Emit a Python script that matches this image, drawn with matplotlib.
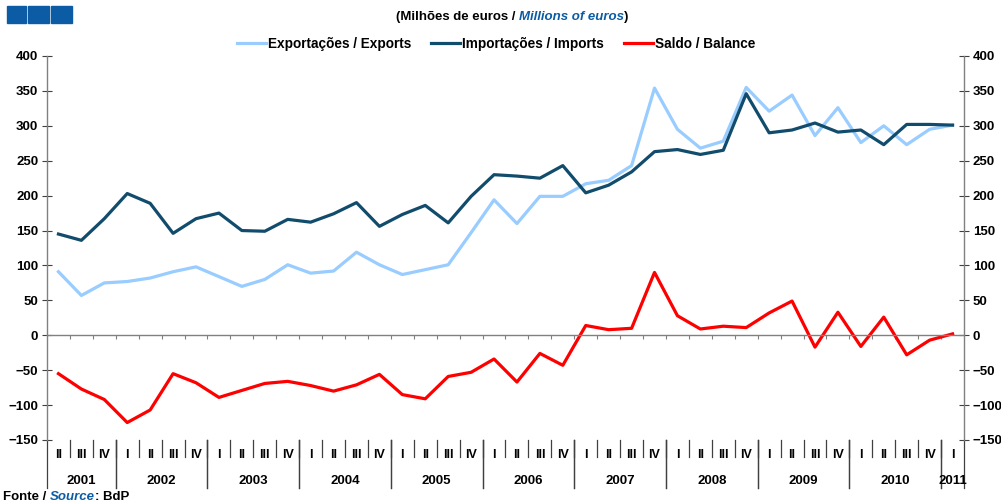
import numpy as np
import matplotlib
matplotlib.use("Agg")
import matplotlib.pyplot as plt
from matplotlib.patches import Rectangle
from matplotlib.transforms import blended_transform_factory

# quarters 2001 II .. 2011 I
quarters = ["II", "III", "IV"] + ["I", "II", "III", "IV"] * 9 + ["I"]
years = ["2001", "2002", "2003", "2004", "2005", "2006", "2007", "2008", "2009", "2010", "2011"]
quarters_per_year = [3, 4, 4, 4, 4, 4, 4, 4, 4, 4, 1]

exports = [91, 57, 75, 77, 82, 91, 98, 84, 70, 80, 101, 89, 92, 119, 101, 87, 94, 101,
           147, 194, 160, 199, 199, 217, 222, 243, 354, 295, 268, 278, 355, 321, 344, 286,
           326, 276, 300, 273, 295, 301]
imports = [145, 136, 167, 203, 189, 146, 167, 175, 150, 149, 166, 162, 174, 190, 156, 173,
           186, 161, 199, 230, 228, 225, 243, 204, 215, 234, 263, 266, 259, 265, 346, 290,
           294, 304, 291, 294, 273, 302, 302, 301]
balance = [-55, -77, -92, -125, -107, -55, -68, -89, -79, -69, -66, -72, -80, -71, -56, -85,
           -91, -59, -53, -34, -67, -26, -43, 14, 8, 10, 90, 28, 9, 13, 11, 32, 49, -17,
           33, -16, 26, -28, -7, 2]

W, H = 1001, 504
FONT = "Liberation Sans"
BLUE = "#0B5CA4"
FS = 9.5
plt.rcParams["font.family"] = [FONT, "DejaVu Sans"]
plt.rcParams["font.weight"] = "bold"

fig = plt.figure(figsize=(W / 100, H / 100), dpi=100)
ax = fig.add_axes([47 / W, 1 - 440 / H, 917 / W, 384 / H])

x = np.arange(len(quarters))
ax.plot(x, exports, color="#99CCFF", lw=2.3, label="Exportações / Exports")
ax.plot(x, imports, color="#124C6C", lw=2.3, label="Importações / Imports")
ax.plot(x, balance, color="#FF0000", lw=2.3, label="Saldo / Balance")

ax.set_xlim(-0.5, len(quarters) - 0.5)
ax.set_ylim(-150, 400)
ax.set_yticks(np.arange(-150, 401, 50))

ax.spines["top"].set_visible(False)
for s in ["left", "right", "bottom"]:
    ax.spines[s].set_color("#808080")
    ax.spines[s].set_linewidth(1)
ax.spines["bottom"].set_position(("data", 0))

ax.set_xticks(np.arange(0.5, len(quarters) - 1, 1))
ax.tick_params(axis="x", direction="out", length=3, color="#808080", labelbottom=False)
ax.tick_params(axis="y", direction="inout", length=6.5, color="#404040",
               right=True, labelright=True, labelsize=FS, pad=3)
for t in ax.get_yticklabels():
    t.set_fontweight("bold")

# category table under the plot
tr = blended_transform_factory(ax.transData, fig.transFigure)
y_top = 1 - 440 / H
y_q = 1 - 457 / H
y_y = 1 - 488 / H
for k in range(1, len(quarters)):
    ax.plot([k - 0.5, k - 0.5], [y_top, y_q], transform=tr, color="#404040",
            lw=0.9, clip_on=False)
for i, q in enumerate(quarters):
    ax.text(i, 1 - 455 / H, q, transform=tr, ha="center", va="center",
            fontsize=9, fontweight="bold")
start = 0
for yr, n in zip(years, quarters_per_year):
    ax.text(start + (n - 1) / 2, 1 - 481 / H, yr, transform=tr, ha="center",
            va="center", fontsize=FS, fontweight="bold")
    for b in [start - 0.5, start + n - 0.5]:
        ax.plot([b, b], [y_top, y_y], transform=tr, color="#404040", lw=0.9,
                clip_on=False)
    start += n

fig.legend(loc="center", bbox_to_anchor=(496 / W, 1 - 44 / H), ncol=3, frameon=False,
           handlelength=2.1, handletextpad=0.15, columnspacing=1.5,
           prop={"family": FONT, "weight": "bold", "size": 9.8})

# subtitle with mixed styles
t1 = fig.text(396 / W, 1 - 17 / H, "(Milhões de euros / ", fontsize=FS,
              fontweight="bold", va="center", ha="left")
a2 = ax.annotate("Millions of euros", xy=(1, 0), xycoords=t1, va="bottom",
                 fontsize=FS, fontweight="bold", style="italic", color=BLUE,
                 annotation_clip=False)
ax.annotate(")", xy=(1, 0), xycoords=a2, va="bottom", fontsize=FS,
            fontweight="bold", annotation_clip=False)

# source line
s1 = fig.text(3 / W, 1 - 497 / H, "Fonte / ", fontsize=FS, fontweight="bold",
              va="center", ha="left")
s2 = ax.annotate("Source", xy=(1, 0), xycoords=s1, va="bottom", fontsize=FS,
                 fontweight="bold", style="italic", color=BLUE, annotation_clip=False)
ax.annotate(": BdP", xy=(1, 0), xycoords=s2, va="bottom", fontsize=FS,
            fontweight="bold", annotation_clip=False)

# three blue squares in the corner
for x0, x1 in [(7, 26), (28, 49), (51, 72)]:
    fig.add_artist(Rectangle((x0 / W, 1 - 23 / H), (x1 - x0) / W, 17 / H,
                             transform=fig.transFigure, color=BLUE))

fig.savefig("out.png", dpi=100)
